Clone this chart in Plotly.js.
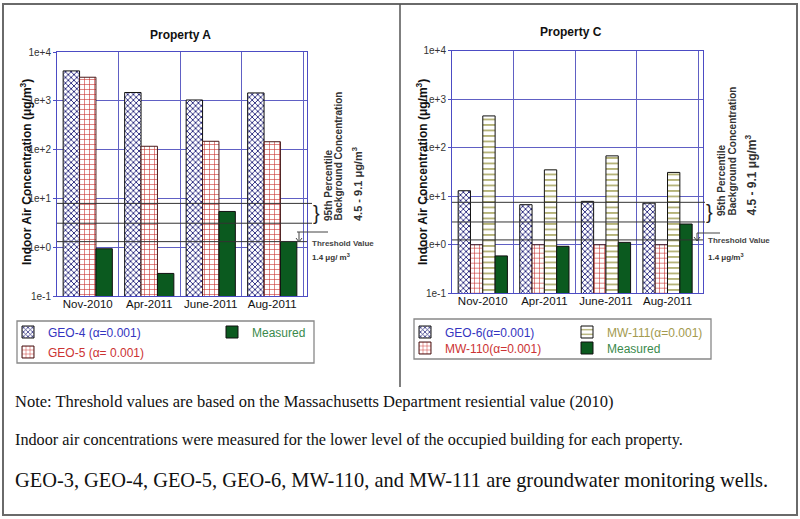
<!DOCTYPE html>
<html><head><meta charset="utf-8">
<script src="https://cdn.plot.ly/plotly-3.0.1.min.js"></script>
<style>html,body{margin:0;padding:0;background:#fff;} #chart{width:800px;height:519px;}</style>
</head><body><div id="chart"></div>
<script>
// ---------- data ----------
const months = ["Nov-2010", "Apr-2011", "June-2011", "Aug-2011"];
// Property A
const geo4 = [4100, 1480, 1040, 1450];
const geo5 = [3040, 117, 148, 145];
const measuredA = [0.93, 0.29, 5.4, 1.31];
// Property C
const geo6 = [13, 6.7, 7.85, 7.2];
const mw110 = [1.0, 1.0, 1.0, 1.0];
const mw111 = [453, 35, 68, 31];
const measuredC = [0.59, 0.93, 1.12, 2.68];
// reference lines (ug/m3) as drawn
const bgLinesA = [7.9, 3.1];
const thresholdA = 1.3;
const bgLinesC = [7.5, 2.95];
const thresholdC = 1.26;
const yTickVals = [0.1, 1, 10, 100, 1000, 10000];
const yTickText = ["1e-1", "1e+0", "1e+1", "1e+2", "1e+3", "1e+4"];
const seriesNamesA = ["GEO-4 (α=0.001)", "GEO-5 (α= 0.001)", "Measured"];
const seriesNamesC = ["GEO-6(α=0.001)", "MW-110(α=0.001)", "MW-111(α=0.001)", "Measured"];

// ---------- helpers ----------
const W = 800, H = 519;
const px = x => x / W;
const py = y => 1 - y / H;
const FONT = "Liberation Sans, Arial, sans-serif";
const SERIF = "Liberation Serif, Times New Roman, serif";
const blueTxt = "#3434c0", redTxt = "#cc3333", greenTxt = "#3a8a4c", oliveTxt = "#a39a4e";
const outline = {color: "#111", width: 1};

function span(c, t) { return '<span style="color:' + c + '">' + t + '</span>'; }

const pat = {
  xhatch: {shape: "x", fgcolor: "#23237a", bgcolor: "#ffffff", size: 4, solidity: 0.4},
  grid:   {shape: "+", fgcolor: "#c8302c", bgcolor: "#ffffff", size: 5, solidity: 0.22},
  hlines: {shape: "-", fgcolor: "#9c9a4c", bgcolor: "#ffffff", size: 5.5, solidity: 0.25}
};

const traces = [
  {type: "bar", x: months, y: geo4, name: span(blueTxt, seriesNamesA[0]), xaxis: "x", yaxis: "y", legend: "legend",
   marker: {color: "#ffffff", pattern: pat.xhatch, line: outline}},
  {type: "bar", x: months, y: geo5, name: span(redTxt, seriesNamesA[1]), xaxis: "x", yaxis: "y", legend: "legend2",
   marker: {color: "#ffffff", pattern: pat.grid, line: {color: "#4a1a1a", width: 1}}},
  {type: "bar", x: months, y: measuredA, name: span(greenTxt, seriesNamesA[2]), xaxis: "x", yaxis: "y", legend: "legend3",
   marker: {color: "#0b5a1f", line: outline}},
  {type: "bar", x: months, y: geo6, name: span(blueTxt, seriesNamesC[0]), xaxis: "x2", yaxis: "y2", legend: "legend4",
   marker: {color: "#ffffff", pattern: pat.xhatch, line: outline}},
  {type: "bar", x: months, y: mw110, name: span(redTxt, seriesNamesC[1]), xaxis: "x2", yaxis: "y2", legend: "legend5",
   marker: {color: "#ffffff", pattern: pat.grid, line: {color: "#4a1a1a", width: 1}}},
  {type: "bar", x: months, y: mw111, name: span(oliveTxt, seriesNamesC[2]), xaxis: "x2", yaxis: "y2", legend: "legend6",
   marker: {color: "#ffffff", pattern: pat.hlines, line: outline}},
  {type: "bar", x: months, y: measuredC, name: span(greenTxt, seriesNamesC[3]), xaxis: "x2", yaxis: "y2", legend: "legend7",
   marker: {color: "#0b5a1f", line: outline}}
].map(t => Object.assign(t, {hoverinfo: "skip", showlegend: true}));

const gridC = "#6060c4", axC = "#4c4cc4";
function xAx(dom, rng, anchor) {
  return {domain: dom, range: rng, type: "category", categoryarray: months, tickson: "boundaries",
    showgrid: true, gridcolor: gridC, gridwidth: 1, showline: true, linecolor: axC, linewidth: 1, mirror: true,
    ticks: "", ticklabelstandoff: -3, tickfont: {family: FONT, size: 11.5, color: "#111"}, anchor: anchor, fixedrange: true};
}
function yAx(dom, anchor) {
  return {domain: dom, type: "log", range: [-1, 4], tickvals: yTickVals, ticktext: yTickText,
    showgrid: true, gridcolor: gridC, gridwidth: 1, showline: true, linecolor: axC, linewidth: 1, mirror: true,
    ticks: "outside", ticklen: 3, tickcolor: axC, zeroline: false,
    tickfont: {family: FONT, size: 10, color: "#333"}, anchor: anchor, fixedrange: true};
}

function leg(textX, cy) {
  return {x: px(textX - 40), y: py(cy), xanchor: "left", yanchor: "middle", bgcolor: "rgba(0,0,0,0)",
    borderwidth: 0, font: {family: FONT, size: 12, color: "#333"}, orientation: "v", itemclick: false};
}

const shapes = [];
const line = (x0, y0, x1, y1, c, w) => shapes.push({type: "line", xref: "paper", yref: "paper",
  x0: px(x0), y0: py(y0), x1: px(x1), y1: py(y1), line: {color: c, width: w}});
// outer frame and divider
shapes.push({type: "rect", xref: "paper", yref: "paper", x0: px(3), y0: py(4), x1: px(797), y1: py(515),
  line: {color: "#6a6a6a", width: 2}});
line(400, 4, 400, 387, "#555", 1.5);
// legend boxes
shapes.push({type: "rect", xref: "paper", yref: "paper", x0: px(17), y0: py(321), x1: px(314), y1: py(363),
  line: {color: "#888", width: 1.3}});
shapes.push({type: "rect", xref: "paper", yref: "paper", x0: px(414), y0: py(319), x1: px(711), y1: py(359),
  line: {color: "#888", width: 1.3}});
// reference lines (data y)
function hline(yref, val, x0, x1) {
  shapes.push({type: "line", xref: "paper", yref: yref, x0: px(x0), x1: px(x1), y0: val, y1: val,
    line: {color: "#333", width: 1}});
}
bgLinesA.forEach(v => hline("y", v, 57, 312));
hline("y", thresholdA, 57, 307);
bgLinesC.forEach(v => hline("y2", v, 452, 705));
hline("y2", thresholdC, 452, 703);
// threshold pointers
line(297, 232, 328, 232, "#444", 1);
line(299, 232, 299, 242, "#444", 1);
shapes.push({type: "path", xref: "paper", yref: "paper",
  path: "M" + px(296) + "," + py(238) + " L" + px(299) + "," + py(242) + " L" + px(302) + "," + py(238),
  line: {color: "#444", width: 1}});
line(697, 233, 720, 233, "#444", 1);
line(697, 233, 697, 241, "#444", 1);
shapes.push({type: "path", xref: "paper", yref: "paper",
  path: "M" + px(694) + "," + py(237) + " L" + px(697) + "," + py(241) + " L" + px(700) + "," + py(237),
  line: {color: "#444", width: 1}});

const ann = [];
function txt(t, x, y, size, opts) {
  ann.push(Object.assign({text: t, xref: "paper", yref: "paper", x: px(x), y: py(y), showarrow: false,
    xanchor: "center", yanchor: "middle", font: {family: FONT, size: size, color: "#111"}}, opts || {}));
}
const bold = (s, c) => ({family: FONT, size: s, color: c || "#111", weight: "bold"});
// titles
txt("Property A", 180, 35, 12, {font: bold(12)});
txt("Property C", 571, 32, 12, {font: bold(12)});
// y-axis titles
txt("Indoor Air Concentration (μg/m<sup>3</sup>)", 26, 172, 12, {textangle: -90, font: bold(12)});
txt("Indoor Air Concentration (μg/m<sup>3</sup>)", 422, 172, 12, {textangle: -90, font: bold(12)});
// background annotation A
txt("}", 316, 213, 20, {font: {family: FONT, size: 20, color: "#222"}});
txt("95th Percentile", 328, 223, 10, {textangle: -90, yanchor: "bottom", font: bold(10, "#333")});
txt("Background Concentration", 338, 223, 10, {textangle: -90, yanchor: "bottom", font: bold(10, "#333")});
txt("4.5 - 9.1 μg/m<sup>3</sup>", 357, 223, 11, {textangle: -90, yanchor: "bottom", font: bold(11, "#333")});
txt("Threshold Value", 310, 243, 8, {xanchor: "left", font: bold(8, "#444")});
txt("1.4 μg/ m<sup>3</sup>", 310, 257, 8, {xanchor: "left", font: bold(8, "#333")});
// background annotation C
txt("}", 709, 212, 20, {font: {family: FONT, size: 20, color: "#222"}});
txt("95th Percentile", 721, 218, 10, {textangle: -90, yanchor: "bottom", font: bold(10, "#333")});
txt("Background Concentration", 732, 218, 10, {textangle: -90, yanchor: "bottom", font: bold(10, "#333")});
txt("4.5 - 9.1 μg/m<sup>3</sup>", 750, 218, 12, {textangle: -90, yanchor: "bottom", font: bold(12, "#333")});
txt("Threshold Value", 706, 240, 8, {xanchor: "left", font: bold(8, "#444")});
txt("1.4 μg/m<sup>3</sup>", 706, 257, 8, {xanchor: "left", font: bold(8, "#333")});
// notes
txt("Note: Threshold values are based on the Massachusetts Department resiential value (2010)", 13, 401, 16.5,
  {xanchor: "left", font: {family: SERIF, size: 16.5, color: "#111"}});
txt("Indoor air concentrations were measured for the lower level of the occupied building for each property.", 13, 440, 16.2,
  {xanchor: "left", font: {family: SERIF, size: 16.2, color: "#111"}});
txt("GEO-3, GEO-4, GEO-5, GEO-6, MW-110, and MW-111 are groundwater monitoring wells.", 13, 480, 20.4,
  {xanchor: "left", font: {family: SERIF, size: 20.4, color: "#111"}});

const layout = {
  width: W, height: H, margin: {l: 0, r: 0, t: 0, b: 0, pad: 0},
  paper_bgcolor: "#ffffff", plot_bgcolor: "#ffffff",
  font: {family: FONT, color: "#111"},
  barmode: "group", bargap: 0.2, bargroupgap: 0,
  showlegend: true,
  xaxis: xAx([px(57), px(307)], [-0.5, 3.565], "y"),
  yaxis: yAx([py(296), py(52)], "x"),
  xaxis2: xAx([px(452), px(703)], [-0.5, 3.576], "y2"),
  yaxis2: yAx([py(293.3), py(50.7)], "x2"),
  legend: leg(48, 332), legend2: leg(48, 352), legend3: leg(252, 332),
  legend4: leg(445, 332), legend5: leg(445, 348), legend6: leg(607, 332), legend7: leg(607, 348),
  shapes: shapes, annotations: ann
};
Plotly.newPlot("chart", traces, layout, {staticPlot: true, displayModeBar: false});
</script>
</body></html>
